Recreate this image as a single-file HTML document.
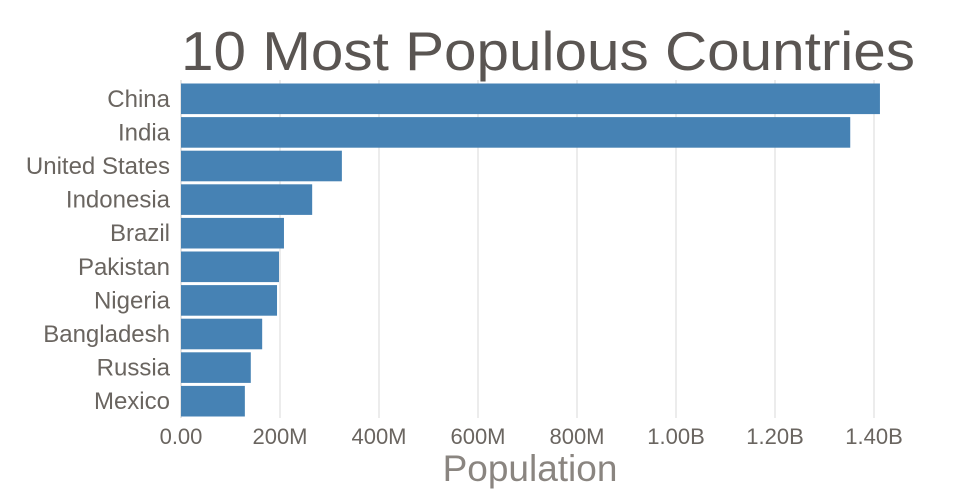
<!DOCTYPE html>
<html><head><meta charset="utf-8"><style>
body{margin:0;background:#fff;}
svg{display:block;font-family:"Liberation Sans","DejaVu Sans",sans-serif;}
</style></head><body>
<svg id="chart" width="960" height="500">
<text x="548" y="70" text-anchor="middle" font-size="55" textLength="734" lengthAdjust="spacingAndGlyphs" fill="#5a5552">10 Most Populous Countries</text>
<g id="grid"></g><g id="bars"></g><g id="ylabels"></g><g id="xlabels"></g>
<text x="530" y="481" text-anchor="middle" font-size="37" fill="#8a8580">Population</text>
</svg>
<script>
const countries=["China","India","United States","Indonesia","Brazil","Pakistan","Nigeria","Bangladesh","Russia","Mexico"];
const population=[1412,1352,325,265,208,198,194,164,141,129];
const tickValues=[0,200,400,600,800,1000,1200,1400];
const tickLabels=["0.00","200M","400M","600M","800M","1.00B","1.20B","1.40B"];
const ns="http://www.w3.org/2000/svg";
const x0=181,pxPer=0.495,topY=82,band=33.6;
function xs(v){return x0+v*pxPer;}
function ys(i){return topY+i*band;}
function mk(t,a,p){const e=document.createElementNS(ns,t);for(const k in a)e.setAttribute(k,a[k]);p.appendChild(e);return e;}
const g=document.getElementById('grid'),b=document.getElementById('bars'),yl=document.getElementById('ylabels'),xl=document.getElementById('xlabels');
tickValues.forEach((v,i)=>{
 if(i>0){const l=mk('line',{x1:xs(v),x2:xs(v),y1:80,y2:418,stroke:'#d8d8d8','stroke-width':1},g);
 
 }
 const t=mk('text',{x:xs(v),y:444,'text-anchor':'middle','font-size':22,fill:'#6a6560'},xl);
 t.textContent=tickLabels[i];
 
 
});
const ax=mk('line',{x1:x0,x2:x0,y1:80,y2:418,stroke:'#ccc','stroke-width':1},g);


countries.forEach((c,i)=>{
 const r=mk('rect',{x:x0,y:ys(i)+1.5,width:xs(population[i])-x0,height:band-3,fill:'#4682b4'},b);
 
 
 const t=mk('text',{x:170,y:ys(i)+band/2+8,'text-anchor':'end','font-size':24,fill:'#6a6560'},yl);
 t.textContent=c;
 
 
});
</script>
</body></html>
